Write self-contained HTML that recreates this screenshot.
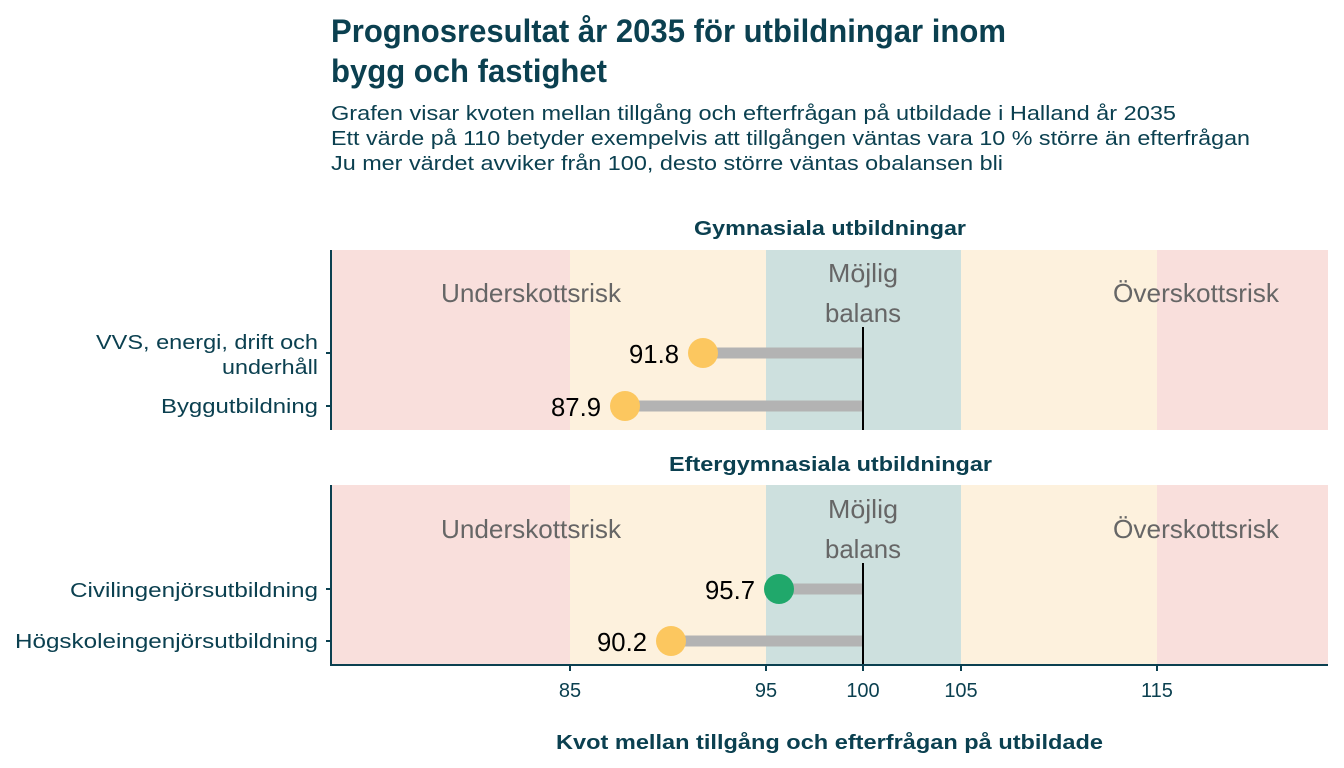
<!DOCTYPE html>
<html><head><meta charset="utf-8"><style>
body{margin:0;background:#fff;width:1344px;height:768px;overflow:hidden}
svg{display:block}
.c{font-family:"Liberation Sans Narrow","Liberation Sans",sans-serif}
.s{font-family:"Liberation Sans",sans-serif}
</style></head><body>
<svg width="1344" height="768" xmlns="http://www.w3.org/2000/svg">
<text x="331" y="42" class="c" font-size="32" font-weight="bold" fill="#0b4050" textLength="675" lengthAdjust="spacingAndGlyphs">Prognosresultat år 2035 för utbildningar inom</text>
<text x="331" y="82" class="c" font-size="32" font-weight="bold" fill="#0b4050" textLength="276" lengthAdjust="spacingAndGlyphs">bygg och fastighet</text>
<g class="s" font-size="20" fill="#0b4050">
<text x="331" y="120" textLength="845" lengthAdjust="spacingAndGlyphs">Grafen visar kvoten mellan tillgång och efterfrågan på utbildade i Halland år 2035</text>
<text x="331" y="145" textLength="919" lengthAdjust="spacingAndGlyphs">Ett värde på 110 betyder exempelvis att tillgången väntas vara 10 % större än efterfrågan</text>
<text x="331" y="170" textLength="672" lengthAdjust="spacingAndGlyphs">Ju mer värdet avviker från 100, desto större väntas obalansen bli</text>
</g>
<g class="s" font-size="20" font-weight="bold" fill="#0b4050">
<text x="694" y="235" textLength="272" lengthAdjust="spacingAndGlyphs">Gymnasiala utbildningar</text>
<text x="669" y="471" textLength="323" lengthAdjust="spacingAndGlyphs">Eftergymnasiala utbildningar</text>
<text x="556" y="749" textLength="547" lengthAdjust="spacingAndGlyphs">Kvot mellan tillgång och efterfrågan på utbildade</text>
</g>
<g>
<rect x="331" y="250" width="239" height="180" fill="#f9dfdc"/>
<rect x="570" y="250" width="196" height="180" fill="#fdf1dd"/>
<rect x="766" y="250" width="195" height="180" fill="#cde0de"/>
<rect x="961" y="250" width="196" height="180" fill="#fdf1dd"/>
<rect x="1157" y="250" width="171" height="180" fill="#f9dfdc"/>
</g>
<g>
<rect x="331" y="485" width="239" height="180" fill="#f9dfdc"/>
<rect x="570" y="485" width="196" height="180" fill="#fdf1dd"/>
<rect x="766" y="485" width="195" height="180" fill="#cde0de"/>
<rect x="961" y="485" width="196" height="180" fill="#fdf1dd"/>
<rect x="1157" y="485" width="171" height="180" fill="#f9dfdc"/>
</g>
<g class="c" font-size="26" fill="#666">
<text x="441" y="302" textLength="180" lengthAdjust="spacingAndGlyphs">Underskottsrisk</text>
<text x="828" y="282" textLength="70" lengthAdjust="spacingAndGlyphs">Möjlig</text>
<text x="825" y="322" textLength="76" lengthAdjust="spacingAndGlyphs">balans</text>
<text x="1113" y="302" textLength="166" lengthAdjust="spacingAndGlyphs">Överskottsrisk</text>
<text x="441" y="538" textLength="180" lengthAdjust="spacingAndGlyphs">Underskottsrisk</text>
<text x="828" y="518" textLength="70" lengthAdjust="spacingAndGlyphs">Möjlig</text>
<text x="825" y="558" textLength="76" lengthAdjust="spacingAndGlyphs">balans</text>
<text x="1113" y="538" textLength="166" lengthAdjust="spacingAndGlyphs">Överskottsrisk</text>
</g>
<g stroke="#000" stroke-width="2">
<line x1="863" y1="327" x2="863" y2="430"/>
<line x1="863" y1="563" x2="863" y2="665"/>
</g>
<g stroke="#b3b3b3" stroke-width="11">
<line x1="703" y1="353" x2="862" y2="353"/>
<line x1="625" y1="406" x2="862" y2="406"/>
<line x1="779" y1="589" x2="862" y2="589"/>
<line x1="671" y1="641" x2="862" y2="641"/>
</g>
<circle cx="703" cy="353" r="15" fill="#fcc75f"/>
<circle cx="625" cy="406" r="15" fill="#fcc75f"/>
<circle cx="779" cy="589" r="15" fill="#20a86b"/>
<circle cx="671" cy="641" r="15" fill="#fcc75f"/>
<g class="c" font-size="26" fill="#000">
<text x="629" y="363" textLength="50" lengthAdjust="spacingAndGlyphs">91.8</text>
<text x="551" y="416" textLength="50" lengthAdjust="spacingAndGlyphs">87.9</text>
<text x="705" y="599" textLength="50" lengthAdjust="spacingAndGlyphs">95.7</text>
<text x="597" y="651" textLength="50" lengthAdjust="spacingAndGlyphs">90.2</text>
</g>
<g stroke="#0b4050" stroke-width="2" fill="none">
<line x1="331" y1="250" x2="331" y2="430"/>
<line x1="331" y1="485" x2="331" y2="666"/>
<line x1="330" y1="665" x2="1328" y2="665"/>
<line x1="326" y1="353" x2="331" y2="353"/>
<line x1="326" y1="406" x2="331" y2="406"/>
<line x1="326" y1="589" x2="331" y2="589"/>
<line x1="326" y1="641" x2="331" y2="641"/>
<line x1="570" y1="665" x2="570" y2="671"/>
<line x1="766" y1="665" x2="766" y2="671"/>
<line x1="863" y1="665" x2="863" y2="671"/>
<line x1="961" y1="665" x2="961" y2="671"/>
<line x1="1157" y1="665" x2="1157" y2="671"/>
</g>
<g class="s" font-size="20" fill="#0b4050">
<text x="96" y="349" textLength="222" lengthAdjust="spacingAndGlyphs">VVS, energi, drift och</text>
<text x="222" y="374" textLength="96" lengthAdjust="spacingAndGlyphs">underhåll</text>
<text x="161" y="413" textLength="157" lengthAdjust="spacingAndGlyphs">Byggutbildning</text>
<text x="70" y="597" textLength="248" lengthAdjust="spacingAndGlyphs">Civilingenjörsutbildning</text>
<text x="15" y="648" textLength="303" lengthAdjust="spacingAndGlyphs">Högskoleingenjörsutbildning</text>
</g>
<g class="s" font-size="20" fill="#0b4050" text-anchor="middle">
<text x="570" y="697">85</text>
<text x="766" y="697">95</text>
<text x="863" y="697">100</text>
<text x="961" y="697">105</text>
<text x="1157" y="697">115</text>
</g>
</svg>
</body></html>
